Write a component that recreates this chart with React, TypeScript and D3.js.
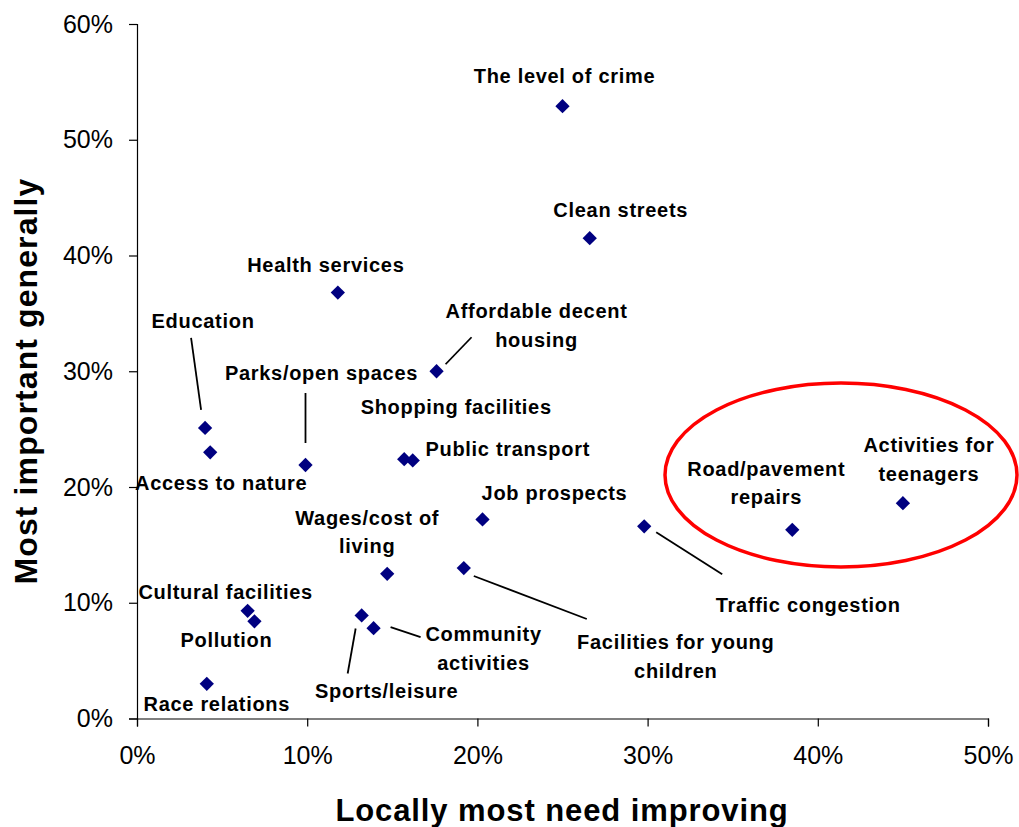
import React, { useEffect, useRef } from 'react';
import * as d3 from 'd3';

// priorities survey: share saying "locally most need improving" vs "most important generally"
const issues = [
  'The level of crime',
  'Clean streets',
  'Health services',
  'Affordable decent housing',
  'Education',
  'Access to nature',
  'Parks/open spaces',
  'Shopping facilities',
  'Public transport',
  'Job prospects',
  'Traffic congestion',
  'Road/pavement repairs',
  'Activities for teenagers',
  'Wages/cost of living',
  'Facilities for young children',
  'Cultural facilities',
  'Pollution',
  'Sports/leisure',
  'Community activities',
  'Race relations',
];

const locallyNeedImproving = [
  25.0, 26.6, 11.8, 17.6, 4.0, 4.3, 9.9, 15.7, 16.2, 20.3,
  29.8, 38.5, 45.0, 14.7, 19.2, 6.5, 6.9, 13.2, 13.9, 4.1,
];

const importantGenerally = [
  52.9, 41.5, 36.8, 30.0, 25.1, 23.0, 21.9, 22.4, 22.3, 17.2,
  16.6, 16.3, 18.6, 12.5, 13.0, 9.3, 8.4, 8.9, 7.8, 3.0,
];

const xTicks = [0, 10, 20, 30, 40, 50];
const yTicks = [0, 10, 20, 30, 40, 50, 60];

// label placement relative to each point (pixels), plus optional leader line
const labelLayout: {
  lines: string[];
  dx: number;
  dy: number;
  leader?: [number, number, number, number];
}[] = [
  { lines: ['The level of crime'], dx: 2, dy: -23 },
  { lines: ['Clean streets'], dx: 31, dy: -21 },
  { lines: ['Health services'], dx: -12, dy: -21 },
  { lines: ['Affordable decent', 'housing'], dx: 100, dy: -53, leader: [9, -7, 35, -34] },
  { lines: ['Education'], dx: -2, dy: -100, leader: [-14, -90, -4, -18] },
  { lines: ['Access to nature'], dx: 11, dy: 38 },
  { lines: ['Parks/open spaces'], dx: 16, dy: -85, leader: [0, -72, 0, -22] },
  { lines: ['Shopping facilities'], dx: 52, dy: -45 },
  { lines: ['Public transport'], dx: 95, dy: -4 },
  { lines: ['Job prospects'], dx: 72, dy: -19 },
  { lines: ['Traffic congestion'], dx: 164, dy: 86, leader: [12, 6, 78, 48] },
  { lines: ['Road/pavement', 'repairs'], dx: -26, dy: -54 },
  { lines: ['Activities for', 'teenagers'], dx: 26, dy: -51 },
  { lines: ['Wages/cost of', 'living'], dx: -20, dy: -49 },
  { lines: ['Facilities for young', 'children'], dx: 212, dy: 81, leader: [10, 8, 123, 51] },
  { lines: ['Cultural facilities'], dx: -22, dy: -12 },
  { lines: ['Pollution'], dx: -28, dy: 26 },
  { lines: ['Sports/leisure'], dx: 25, dy: 83, leader: [-6, 13, -14, 58] },
  { lines: ['Community', 'activities'], dx: 110, dy: 13, leader: [17, -1, 47, 9] },
  { lines: ['Race relations'], dx: 10, dy: 27 },
];

const FONT = '"Liberation Sans", Arial, Helvetica, sans-serif';

export default function App() {
  const ref = useRef<SVGSVGElement>(null);

  useEffect(() => {
    const width = 1019;
    const height = 827;
    const margin = { top: 24, right: 31, bottom: 109, left: 137 };

    const svg = d3.select(ref.current);
    svg.selectAll('*').remove();

    const xScale = d3
      .scaleLinear()
      .domain([0, 50])
      .range([margin.left, width - margin.right]);

    const yScale = d3
      .scaleLinear()
      .domain([0, 60])
      .range([height - margin.bottom + 0.5, margin.top]);

    const fmt = (d: d3.NumberValue) => `${d}%`;

    const xAxis = d3
      .axisBottom(xScale)
      .tickValues(xTicks)
      .tickFormat(fmt)
      .tickSizeOuter(0)
      .tickSize(8)
      .tickPadding(20);

    const yAxis = d3
      .axisLeft(yScale)
      .tickValues(yTicks)
      .tickFormat(fmt)
      .tickSizeOuter(0)
      .tickSize(8)
      .tickPadding(16);

    const gx = svg
      .append('g')
      .attr('transform', `translate(0, ${yScale(0)})`)
      .call(xAxis);

    const gy = svg
      .append('g')
      .attr('transform', `translate(${margin.left}, 0)`)
      .call(yAxis);

    [gx, gy].forEach((g) => {
      g.selectAll('path, line').attr('stroke', '#000').attr('stroke-width', 1.2);
      g.selectAll('text')
        .attr('font-family', FONT)
        .attr('font-size', 25)
        .attr('fill', '#000');
    });

    // axis titles
    svg
      .append('text')
      .attr('x', 562)
      .attr('y', 821)
      .attr('text-anchor', 'middle')
      .attr('font-family', FONT)
      .attr('font-weight', 'bold')
      .attr('font-size', 31)
      .attr('letter-spacing', 0.9)
      .text('Locally most need improving');

    svg
      .append('text')
      .attr('transform', 'translate(37, 381) rotate(-90)')
      .attr('text-anchor', 'middle')
      .attr('font-family', FONT)
      .attr('font-weight', 'bold')
      .attr('font-size', 32)
      .attr('letter-spacing', 1.1)
      .text('Most important generally');

    const points = issues.map((name, i) => ({
      name,
      x: locallyNeedImproving[i],
      y: importantGenerally[i],
      layout: labelLayout[i],
    }));

    // leader lines
    svg
      .append('g')
      .selectAll('line')
      .data(points.filter((d) => d.layout.leader))
      .enter()
      .append('line')
      .attr('x1', (d) => xScale(d.x) + d.layout.leader![0])
      .attr('y1', (d) => yScale(d.y) + d.layout.leader![1])
      .attr('x2', (d) => xScale(d.x) + d.layout.leader![2])
      .attr('y2', (d) => yScale(d.y) + d.layout.leader![3])
      .attr('stroke', '#000')
      .attr('stroke-width', 1.8);

    // diamond markers
    const diamond = d3.symbol().type(d3.symbolDiamond2).size(130);
    svg
      .append('g')
      .selectAll('path')
      .data(points)
      .enter()
      .append('path')
      .attr('d', diamond)
      .attr('transform', (d) => `translate(${xScale(d.x)}, ${yScale(d.y)})`)
      .attr('fill', '#000080');

    // labels
    const labels = svg
      .append('g')
      .selectAll('text')
      .data(points)
      .enter()
      .append('text')
      .attr('text-anchor', 'middle')
      .attr('font-family', FONT)
      .attr('font-weight', 'bold')
      .attr('font-size', 20)
      .attr('letter-spacing', 0.7)
      .attr('fill', '#000');

    labels.each(function (d) {
      const t = d3.select(this);
      d.layout.lines.forEach((line, j) => {
        t.append('tspan')
          .attr('x', xScale(d.x) + d.layout.dx)
          .attr('y', yScale(d.y) + d.layout.dy + j * 28.5)
          .text(line);
      });
    });

    // red highlight ellipse
    svg
      .append('ellipse')
      .attr('cx', 841)
      .attr('cy', 475)
      .attr('rx', 176)
      .attr('ry', 92)
      .attr('fill', 'none')
      .attr('stroke', '#ff0000')
      .attr('stroke-width', 3.5);
  }, []);

  return (
    <svg
      ref={ref}
      width={1019}
      height={827}
      style={{ position: 'absolute', left: 0, top: 0, background: '#fff' }}
    />
  );
}
